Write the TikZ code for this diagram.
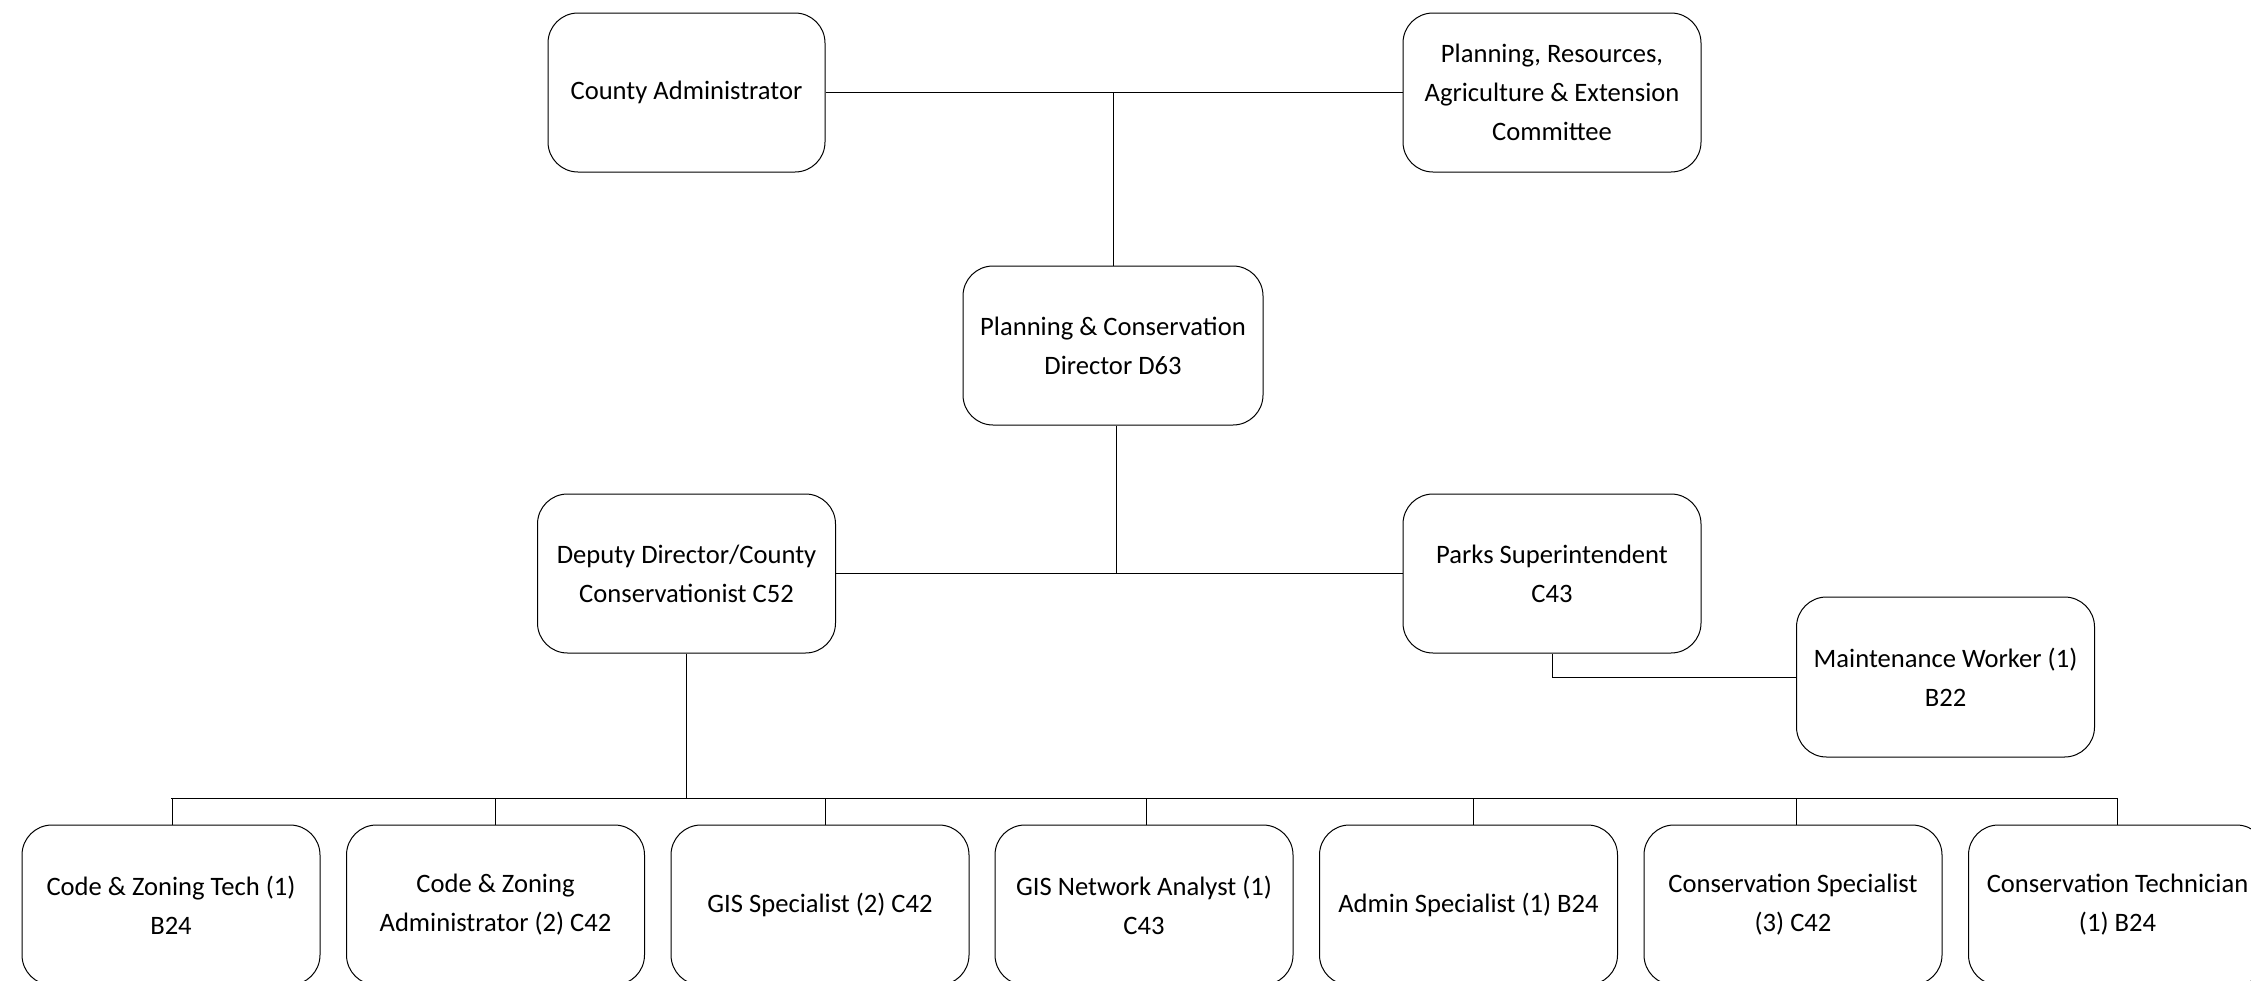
\documentclass[tikz,border=0pt]{standalone}
\usepackage{fontspec}
\setmainfont{Carlito}
\begin{document}
\begin{tikzpicture}[x=1pt,y=-1pt,
  box/.style={draw=black,line width=1pt,rounded corners=30pt,minimum width=298pt,minimum height=159pt,align=center,inner sep=0pt,font=\fontsize{26.6}{39}\selectfont},
  conn/.style={draw=black,line width=1pt}]
\useasboundingbox (0,0) rectangle (2251,980);
\node[box,minimum width=277pt] (ca) at (686.5,92.5) {County Administrator};
\node[box] (pc) at (1552,92.5) {Planning, Resources,\\Agriculture \& Extension\\Committee};
\node[box,minimum width=300pt] (dir) at (1113,345.5) {Planning \& Conservation\\Director D63};
\node[box] (dep) at (686.5,573.5) {Deputy Director/County\\Conservationist C52};
\node[box] (parks) at (1552,573.5) {Parks Superintendent\\C43};
\node[box,minimum height=160pt] (mw) at (1945.5,677) {Maintenance Worker (1)\\B22};
\node[box,minimum height=160pt] (b1) at (171,905) {Code \& Zoning Tech (1)\\B24};
\node[box,minimum height=160pt] (b2) at (495.5,905) {Code \& Zoning\\Administrator (2) C42};
\node[box,minimum height=160pt] (b3) at (820,905) {GIS Specialist (2) C42};
\node[box,minimum height=160pt] (b4) at (1144,905) {GIS Network Analyst (1)\\C43};
\node[box,minimum height=160pt] (b5) at (1468.5,905) {Admin Specialist (1) B24};
\node[box,minimum height=160pt] (b6) at (1793,905) {Conservation Specialist\\(3) C42};
\node[box,minimum height=160pt] (b7) at (2117.5,905) {Conservation Technician\\(1) B24};
\coordinate (bus) at (686.5,798);
\draw[conn] (ca.east) -- (pc.west);
\draw[conn] (dir.north) -- (dir.north |- ca.east);
\draw[conn] (dep.east) -- (parks.west);
\draw[conn] ([xshift=3pt]dir.south) -- ([xshift=3pt]dir.south |- dep.east);
\draw[conn] (parks.south) |- (mw.west);
\draw[conn] (dep.south) -- (bus);
\draw[conn] (b1.north |- bus) -- (b7.north |- bus);
\foreach \b/\s in {b1/1,b2/0,b3/5,b4/2,b5/4.5,b6/3,b7/0}{\draw[conn] ([xshift=\s pt]\b.north) -- ([xshift=\s pt]\b.north |- bus);}
\end{tikzpicture}
\end{document}
